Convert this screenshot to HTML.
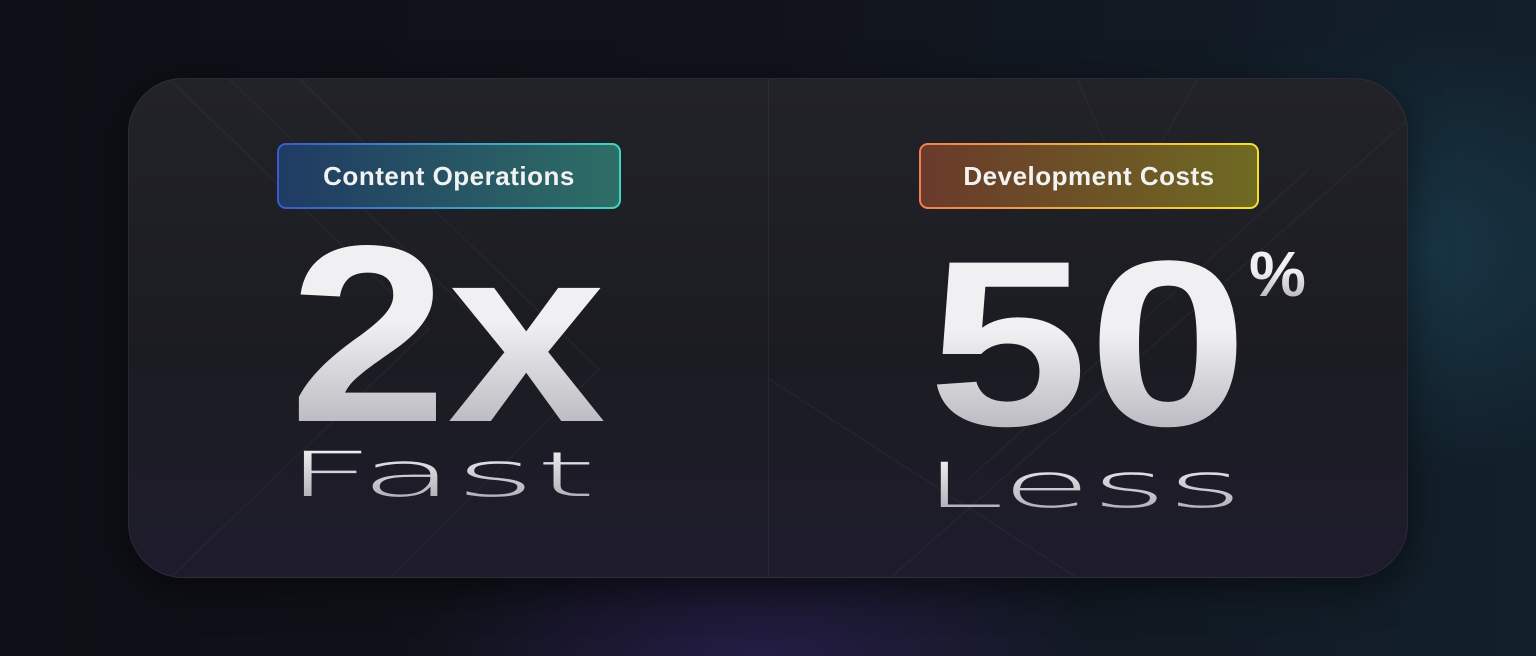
<!DOCTYPE html>
<html><head><meta charset="utf-8"><style>
*{margin:0;padding:0;box-sizing:border-box}
body{width:1536px;height:656px;overflow:hidden;position:relative;font-family:"Liberation Sans",sans-serif;
background:
radial-gradient(ellipse 420px 320px at 1400px 250px,rgba(30,75,95,.55),transparent 70%),
radial-gradient(ellipse 500px 200px at 760px 660px,rgba(60,40,120,.45),transparent 70%),
linear-gradient(90deg,#0e0f16 0%,#11131b 50%,#12202b 100%);}
.card{position:absolute;left:128px;top:78px;width:1280px;height:500px;border-radius:55px;
background:linear-gradient(180deg,#222328 0%,#1b1c22 55%,#1e1c2c 100%);
border:1px solid rgba(255,255,255,.06);box-shadow:0 10px 40px rgba(0,0,0,.5);overflow:hidden}
.div{position:absolute;left:639px;top:0;width:1px;height:100%;background:rgba(255,255,255,.05)}
.badge{position:absolute;top:64px;height:66px;border-radius:9px;padding:2px}
.badge span{display:flex;align-items:center;justify-content:center;width:100%;height:100%;border-radius:7px;color:#f2f2f2;font-size:26px;font-weight:bold;letter-spacing:.5px}
.b1{left:148px;width:344px;background:linear-gradient(90deg,#3a58d0,#3fd6c0)}
.b1 span{background:linear-gradient(90deg,#1f3b63,#2e6e66)}
.b2{left:790px;width:340px;background:linear-gradient(90deg,#f08050,#f5e030)}
.b2 span{background:linear-gradient(90deg,#6a3a2a,#6f6a22)}
.big{position:absolute;font-weight:bold;color:#ececee;line-height:1;white-space:nowrap;transform-origin:0 0;
background:linear-gradient(180deg,#f0f0f2 45%,#a9a8b0 100%);-webkit-background-clip:text;background-clip:text;-webkit-text-fill-color:transparent}
.thin{position:absolute;line-height:1;white-space:nowrap;transform-origin:0 0;font-family:"DejaVu Sans",sans-serif;font-weight:200;
background:linear-gradient(180deg,#f4f4f6,#a8a7b0);-webkit-background-clip:text;background-clip:text;-webkit-text-fill-color:transparent}
</style></head><body>
<div class="card">
<svg width="1280" height="500" style="position:absolute;left:0;top:0" stroke="rgba(255,255,255,.035)" stroke-width="1.5" fill="none">
<path d="M40 0 L300 250 L40 500"/><path d="M100 0 L400 290"/><path d="M170 0 L470 290 L260 500"/><path d="M940 -20 L1000 120 L1080 -20"/><path d="M1280 40 L760 500"/><path d="M1180 90 L840 400"/><path d="M640 300 L950 500"/>
</svg>
<div class="div"></div>
<div class="badge b1"><span>Content Operations</span></div>
<div class="badge b2"><span>Development Costs</span></div>
<div class="big" style="left:160px;top:130px;font-size:252px;transform:scaleX(1.13)">2x</div>
<div class="big" style="left:799px;top:147px;font-size:236px;transform:scaleX(1.22)">50</div>
<div class="big" style="left:1120px;top:163px;font-size:64px">%</div>
<div class="thin" style="left:156px;top:365px;font-size:62px;transform:scaleX(2.5)">Fast</div>
<div class="thin" style="left:794px;top:376px;font-size:62px;transform:scaleX(2.35)">Less</div>
</div>
</body></html>
